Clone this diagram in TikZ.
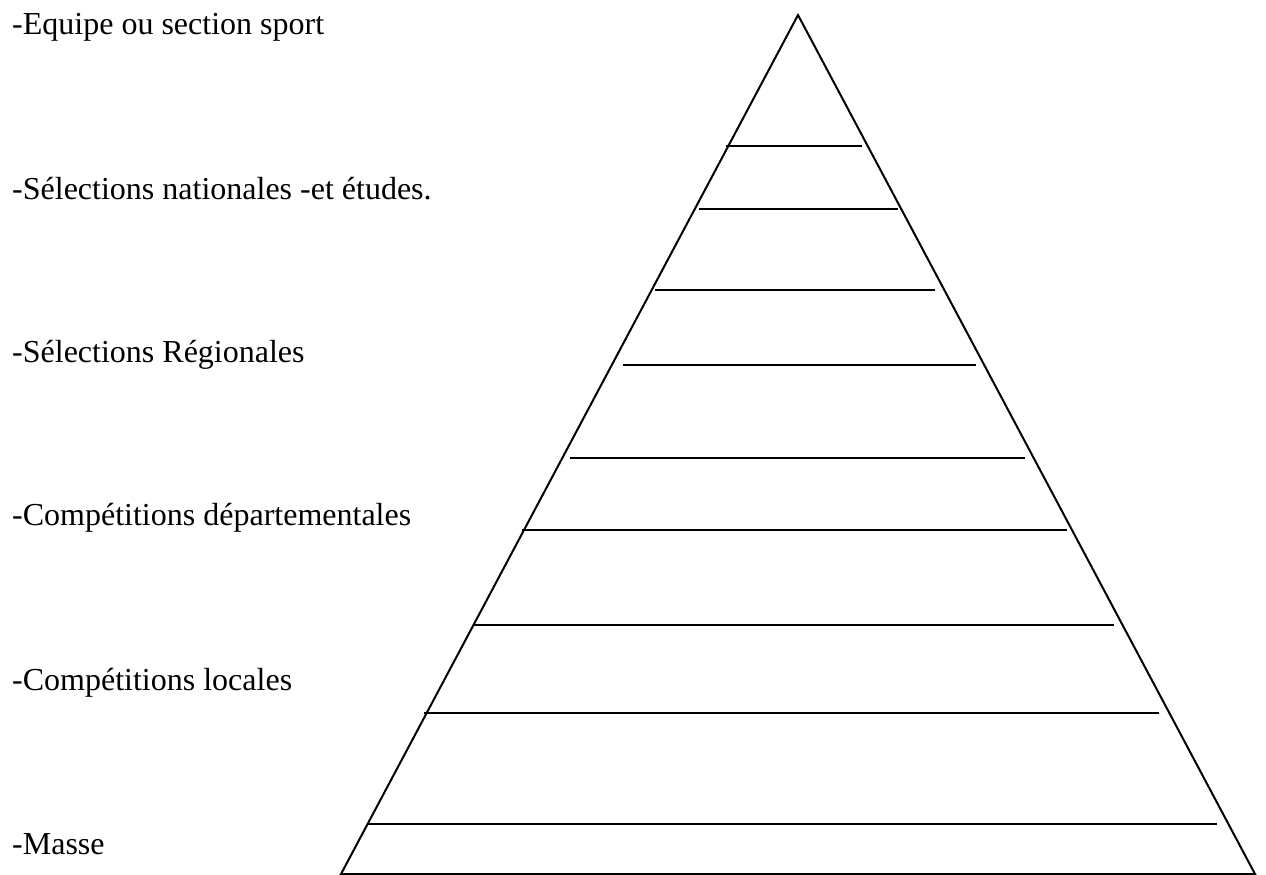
\documentclass[tikz,border=0pt]{standalone}
\usepackage{fontspec}
\setmainfont{Liberation Serif}
\begin{document}
\begin{tikzpicture}[x=1pt,y=-1pt,
  lbl/.style={anchor=base west,inner sep=0pt,font=\fontsize{32}{35}\selectfont},
  edge/.style={line width=2pt,line join=miter},
  rung/.style={line width=2pt}]
\useasboundingbox (0,0) rectangle (1266,875);
% labels
\node[lbl] (t1) at (12,35) {-Equipe ou section sport};
\node[lbl] (t2) at (12,199) {-Sélections nationales -et études.};
\node[lbl] (t3) at (12,362) {-Sélections Régionales};
\node[lbl] (t4) at (12,525) {-Compétitions départementales};
\node[lbl] (t5) at (12,690) {-Compétitions locales};
\node[lbl] (t6) at (12,854) {-Masse};
% triangle
\coordinate (apex) at (798,15);
\coordinate (bl) at (341,874);
\coordinate (br) at (1255,874);
\draw[edge] (apex) -- (bl) -- (br) -- cycle;
% horizontal lines
\foreach \i/\y/\xa/\xb in {1/146/726/862, 2/209/699/898, 3/290/655/935, 4/365/623/976, 5/458/570/1025, 6/530/522/1067, 7/625/474/1114, 8/713/424/1159, 9/824/367/1217}{
  \coordinate (l\i a) at (\xa,\y);
  \coordinate (l\i b) at (\xb,\y);
  \draw[rung] (l\i a) -- (l\i b);
}
\end{tikzpicture}
\end{document}
